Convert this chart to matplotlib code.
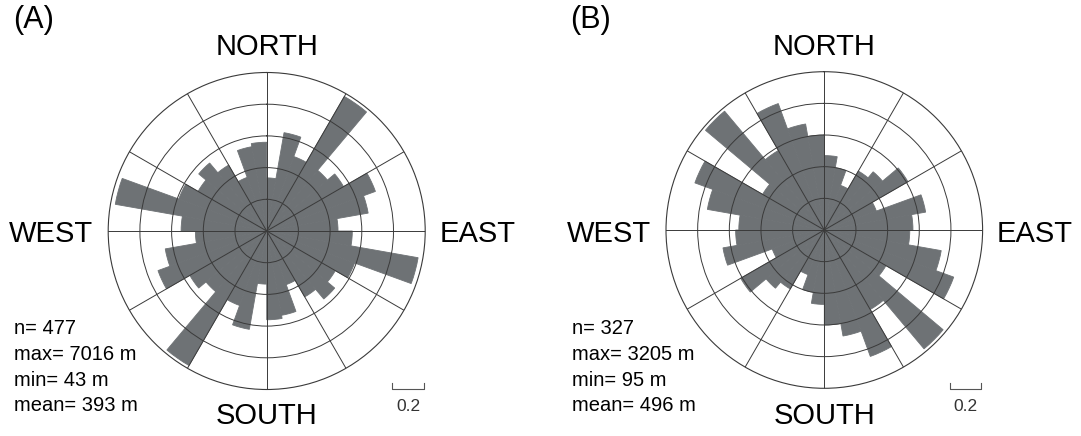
import numpy as np
import matplotlib.pyplot as plt
from matplotlib.lines import Line2D

plt.rcParams['font.family'] = ['Liberation Sans', 'DejaVu Sans']

W, H = 1081, 436

# axial orientation data: one value per 10 deg bin over 0-180, mirrored to 180-360
bin_width = 10
rose_a = [0.335, 0.63, 0.50, 0.98, 0.50, 0.56, 0.73, 0.65, 0.45,
          0.54, 0.97, 0.59, 0.50, 0.56, 0.48, 0.36, 0.54, 0.56]
rose_b = [0.47, 0.40, 0.30, 0.43, 0.48, 0.61, 0.35, 0.65, 0.56,
          0.54, 0.75, 0.87, 0.45, 0.98, 0.58, 0.85, 0.68, 0.60]
stats_a = ["n= 477", "max= 7016 m", "min= 43 m", "mean= 393 m"]
stats_b = ["n= 327", "max= 3205 m", "min= 95 m", "mean= 496 m"]
panel_labels = ["(A)", "(B)"]
ring_ticks = [0.2, 0.4, 0.6, 0.8]
r_max = 1.0
scale_len = 0.2

BAR = '#6e7275'
LINE = '#3a3a3a'


def fx(px):
    return px / W


def fy(py):
    return 1 - py / H


def draw_rose(fig, cx, cy, R, values, label, stats):
    ax = fig.add_axes([fx(cx - R), fy(cy + R), 2 * R / W, 2 * R / H],
                      projection='polar')
    ax.set_theta_zero_location('N')
    ax.set_theta_direction(-1)
    full = list(values) + list(values)
    theta = np.deg2rad(np.arange(0, 360, bin_width))
    ax.bar(theta, full, width=np.deg2rad(bin_width), align='edge',
           color=BAR, edgecolor=BAR, linewidth=0.6)
    ax.set_ylim(0, r_max)
    ax.set_rticks(ring_ticks)
    ax.set_thetagrids(np.arange(0, 360, 30))
    ax.set_xticklabels([])
    ax.set_yticklabels([])
    ax.set_axisbelow(False)
    ax.grid(True, color=LINE, linewidth=0.7)
    ax.spines['polar'].set_color(LINE)
    ax.spines['polar'].set_linewidth(0.8)

    fs = 21
    fig.text(fx(cx), fy(47), "NORTH", ha='center', va='center', fontsize=fs)
    fig.text(fx(cx), fy(416), "SOUTH", ha='center', va='center', fontsize=fs)
    fig.text(fx(cx - R - 57), fy(234), "WEST", ha='center', va='center', fontsize=fs)
    fig.text(fx(cx + R + 52), fy(234), "EAST", ha='center', va='center', fontsize=fs)
    fig.text(fx(cx - R - 75), fy(20), label, ha='center', va='center', fontsize=22)

    for i, s in enumerate(stats):
        fig.text(fx(cx - R - 94), fy(329 + i * 25.5), s, ha='left', va='center',
                 fontsize=14.5)

    # scale bar, same length as scale_len on the radial axis
    bl = scale_len / r_max * R
    x0 = cx + R - 33
    y0 = 389
    fig.add_artist(Line2D([fx(x0), fx(x0), fx(x0 + bl), fx(x0 + bl)],
                          [fy(y0 - 6), fy(y0), fy(y0), fy(y0 - 6)],
                          color='#555555', linewidth=0.8))
    fig.text(fx(x0 + bl / 2), fy(406), f"{scale_len:g}", ha='center', va='center',
             fontsize=12.5, color='#333333')


fig = plt.figure(figsize=(W / 100, H / 100), dpi=100)
draw_rose(fig, 266.7, 231, 158.5, rose_a, panel_labels[0], stats_a)
draw_rose(fig, 824.3, 230, 158.3, rose_b, panel_labels[1], stats_b)
fig.savefig("out.png", dpi=100)
